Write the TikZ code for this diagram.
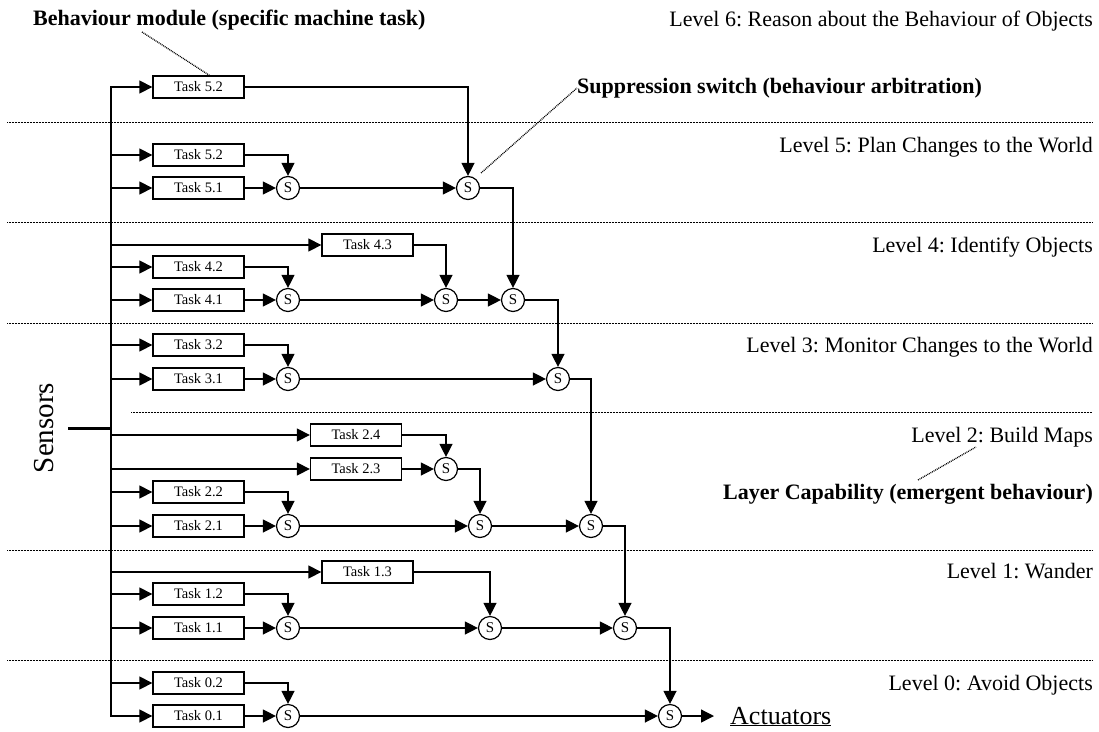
\documentclass[tikz,border=0pt]{standalone}
\usepackage{fontspec}
\setmainfont{Liberation Serif}
\usetikzlibrary{arrows.meta,calc}
\frenchspacing
\begin{document}
\begin{tikzpicture}[x=1pt,y=-1pt,
  task/.style={draw, line width=1.3pt, minimum width=91pt, minimum height=22pt, inner sep=0pt, font=\fontsize{14.5}{14.5}\selectfont},
  sw/.style={draw, circle, line width=1.2pt, minimum size=23pt, inner sep=0pt, font=\fontsize{15}{15}\selectfont},
  flow/.style={line width=1.3pt, -{Triangle[length=13pt,width=13pt]}},
  level/.style={anchor=base east, inner sep=0pt, font=\fontsize{22}{22}\selectfont},
  note/.style={inner sep=0pt, font=\fontsize{22}{22}\selectfont\bfseries},
  sep/.style={line width=0.7pt, dash pattern=on 0.7pt off 0.8pt},
  leader/.style={line width=1.3pt, dash pattern=on 0.9pt off 0.9pt}
]
\useasboundingbox (0,0) rectangle (1099,731);

% layer separators
\draw[sep] (7,122) -- (1092,122);
\draw[sep] (7,222) -- (1092,222);
\draw[sep] (7,323) -- (1092,323);
\draw[sep] (131,412) -- (1092,412);
\draw[sep] (7,550) -- (1092,550);
\draw[sep] (7,660) -- (1092,660);

% level titles
\node[level] (L6) at (1093,26)  {Level 6: Reason about the Behaviour of Objects};
\node[level] (L5) at (1093,152) {Level 5: Plan Changes to the World};
\node[level] (L4) at (1093,252) {Level 4: Identify Objects};
\node[level] (L3) at (1093,352) {Level 3: Monitor Changes to the World};
\node[level] (L2) at (1093,442) {Level 2: Build Maps};
\node[level] (L1) at (1093,578) {Level 1: Wander};
\node[level] (L0) at (1093,690) {Level 0: Avoid Objects};

% annotations
\node[note, anchor=base west] (nb) at (33,25)  {Behaviour module (specific machine task)};
\node[note, anchor=base west] (ns) at (577,93) {Suppression switch (behaviour arbitration)};
\node[note, anchor=base east] (nl) at (1093,499) {Layer Capability (emergent behaviour)};

% task modules
\node[task] (T6)  at (198.5,87)  {Task 5.2};
\node[task] (T5b) at (198.5,155) {Task 5.2};
\node[task] (T5a) at (198.5,188) {Task 5.1};
\node[task] (T4c) at (367.5,245) {Task 4.3};
\node[task] (T4b) at (198.5,267) {Task 4.2};
\node[task] (T4a) at (198.5,300) {Task 4.1};
\node[task] (T3b) at (198.5,345) {Task 3.2};
\node[task] (T3a) at (198.5,379) {Task 3.1};
\node[task] (T2d) at (356,435)   {Task 2.4};
\node[task] (T2c) at (356,469)   {Task 2.3};
\node[task] (T2b) at (198.5,492) {Task 2.2};
\node[task] (T2a) at (198.5,526) {Task 2.1};
\node[task] (T1c) at (367.5,572) {Task 1.3};
\node[task] (T1b) at (198.5,594) {Task 1.2};
\node[task] (T1a) at (198.5,628) {Task 1.1};
\node[task] (T0b) at (198.5,683) {Task 0.2};
\node[task] (T0a) at (198.5,716) {Task 0.1};

% suppression switches
\node[sw] (S5a) at (288,188) {S};
\node[sw] (S5b) at (468,188) {S};
\node[sw] (S4a) at (288,300) {S};
\node[sw] (S4b) at (446,300) {S};
\node[sw] (S4c) at (513,300) {S};
\node[sw] (S3a) at (288,379) {S};
\node[sw] (S3b) at (558,379) {S};
\node[sw] (S2d) at (446,469) {S};
\node[sw] (S2a) at (288,526) {S};
\node[sw] (S2b) at (480,526) {S};
\node[sw] (S2c) at (591,526) {S};
\node[sw] (S1a) at (288,628) {S};
\node[sw] (S1b) at (490,628) {S};
\node[sw] (S1c) at (625,628) {S};
\node[sw] (S0a) at (288,716) {S};
\node[sw] (S0b) at (670,716) {S};

% sensors and actuators
\node[rotate=90, anchor=base, inner sep=0pt, font=\fontsize{29}{29}\selectfont] (sens) at (53,428) {Sensors};
\node[anchor=base west, inner sep=0pt, font=\fontsize{26}{26}\selectfont] (act) at (730,724) {\underline{Actuators}};

% sensor bus
\coordinate (bus) at (111,0);
\coordinate (stub) at (68,428);
\draw[line width=3pt] (stub) -- (stub -| bus);
\draw[flow] (T0a.west -| bus) |- (T6.west);
\draw[flow] (T6.west -| bus) |- (T0a.west);
\foreach \t in {T5b,T5a,T4c,T4b,T4a,T3b,T3a,T2d,T2c,T2b,T2a,T1c,T1b,T1a,T0b}
  \draw[flow] (\t.west -| bus) -- (\t.west);

% level 5 and 6
\draw[flow] (T6.east) -| (S5b.north);
\draw[flow] (T5b.east) -| (S5a.north);
\draw[flow] (T5a) -- (S5a);
\draw[flow] (S5a) -- (S5b);
\draw[flow] (S5b.east) -| (S4c.north);
% level 4
\draw[flow] (T4c.east) -| (S4b.north);
\draw[flow] (T4b.east) -| (S4a.north);
\draw[flow] (T4a) -- (S4a);
\draw[flow] (S4a) -- (S4b);
\draw[flow] (S4b) -- (S4c);
\draw[flow] (S4c.east) -| (S3b.north);
% level 3
\draw[flow] (T3b.east) -| (S3a.north);
\draw[flow] (T3a) -- (S3a);
\draw[flow] (S3a) -- (S3b);
\draw[flow] (S3b.east) -| (S2c.north);
% level 2
\draw[flow] (T2d.east) -| (S2d.north);
\draw[flow] (T2c) -- (S2d);
\draw[flow] (S2d.east) -| (S2b.north);
\draw[flow] (T2b.east) -| (S2a.north);
\draw[flow] (T2a) -- (S2a);
\draw[flow] (S2a) -- (S2b);
\draw[flow] (S2b) -- (S2c);
\draw[flow] (S2c.east) -| (S1c.north);
% level 1
\draw[flow] (T1c.east) -| (S1b.north);
\draw[flow] (T1b.east) -| (S1a.north);
\draw[flow] (T1a) -- (S1a);
\draw[flow] (S1a) -- (S1b);
\draw[flow] (S1b) -- (S1c);
\draw[flow] (S1c.east) -| (S0b.north);
% level 0
\draw[flow] (T0b.east) -| (S0a.north);
\draw[flow] (T0a) -- (S0a);
\draw[flow] (S0a) -- (S0b);
\draw[flow, shorten >=16pt] (S0b.east) -- (S0b.east -| act.west);

% annotation leaders
\draw[leader] ($(nb.base west)+(109,7)$) -- ($(T6.north)+(11,0)$);
\draw[leader] ($(S5b.center)+(13,-15)$) -- ($(ns.base west)+(0,-5)$);
\draw[leader] ($(nl.base east)+(-175,-19)$) -- ($(L2.base east)+(-117,5)$);
\end{tikzpicture}
\end{document}
